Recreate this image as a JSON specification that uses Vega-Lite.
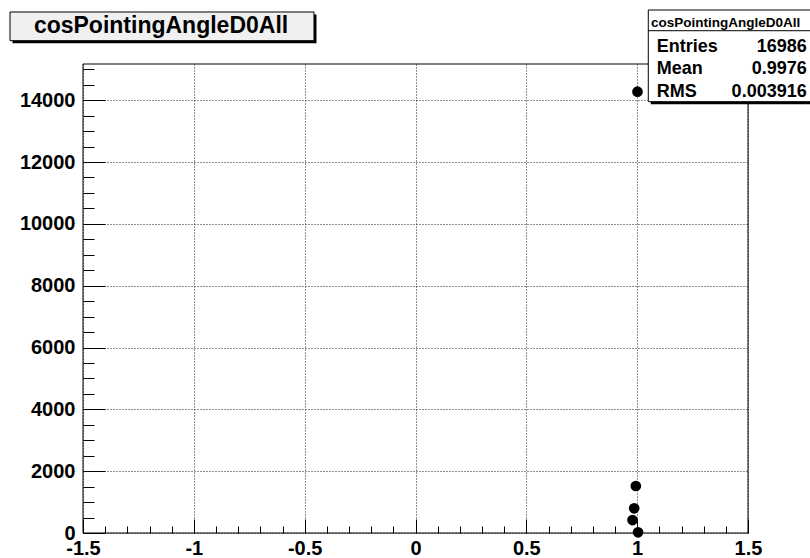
{
  "$schema": "https://vega.github.io/schema/vega-lite/v6.json",
  "width": 665,
  "height": 469,
  "autosize": "none",
  "padding": {"left": 83, "top": 64, "right": 62, "bottom": 25},
  "background": "white",
  "config": {
    "view": {"stroke": null},
    "font": "Liberation Sans",
    "axis": {
      "labelFont": "Liberation Sans",
      "labelFontWeight": "bold",
      "labelFontSize": 20,
      "labelColor": "black",
      "tickColor": "black",
      "tickWidth": 1,
      "domain": false,
      "title": null
    }
  },
  "datasets": {
    "hist": [
      {"x": 0.979, "count": 420},
      {"x": 0.9865, "count": 799},
      {"x": 0.994, "count": 1520},
      {"x": 1.0014, "count": 14274},
      {"x": 1.004, "count": 23}
    ],
    "one": [{}]
  },
  "layer": [
    {
      "data": {"name": "hist"},
      "mark": {"type": "point", "opacity": 0},
      "encoding": {
        "x": {"field": "x", "type": "quantitative",
          "scale": {"domain": [-1.5, 1.5], "nice": false, "zero": false},
          "axis": {"orient": "bottom", "values": [-1.4,-1.3,-1.2,-1.1,-0.9,-0.8,-0.7,-0.6,-0.4,-0.3,-0.2,-0.1,0.1,0.2,0.3,0.4,0.6,0.7,0.8,0.9,1.1,1.2,1.3,1.4], "labels": false, "grid": false, "tickSize": -7}},
        "y": {"field": "count", "type": "quantitative",
          "scale": {"domain": [0, 15170], "nice": false, "zero": false},
          "axis": {"orient": "left", "values": [500,1000,1500,2500,3000,3500,4500,5000,5500,6500,7000,7500,8500,9000,9500,10500,11000,11500,12500,13000,13500,14500,15000], "labels": false, "grid": false, "tickSize": -11}}
      }
    },
    {
      "data": {"name": "hist"},
      "mark": {"type": "point", "opacity": 0},
      "encoding": {
        "x": {"field": "x", "type": "quantitative",
          "scale": {"domain": [-1.5, 1.5], "nice": false, "zero": false},
          "axis": {"orient": "bottom", "values": [-1.5,-1,-0.5,0,0.5,1,1.5], "labelExpr": "'' + datum.value", "grid": true, "gridDash": [1,2], "gridColor": "#222", "gridWidth": 1, "tickSize": -14, "labelPadding": 19, "labelFlush": false, "labelOverlap": false}},
        "y": {"field": "count", "type": "quantitative",
          "scale": {"domain": [0, 15170], "nice": false, "zero": false},
          "axis": {"orient": "left", "values": [0,2000,4000,6000,8000,10000,12000,14000], "labelExpr": "'' + datum.value", "grid": true, "gridDash": [1,2], "gridColor": "#222", "gridWidth": 1, "tickSize": -22, "labelPadding": 30, "labelFlush": false, "labelOverlap": false}}
      }
    },
    {
      "data": {"name": "one"},
      "mark": {"type": "rect", "fill": null, "stroke": "black", "strokeWidth": 1},
      "encoding": {
        "x": {"datum": -1.5, "type": "quantitative", "scale": {"domain": [-1.5, 1.5], "nice": false, "zero": false}, "axis": null},
        "x2": {"datum": 1.5},
        "y": {"datum": 0, "type": "quantitative", "scale": {"domain": [0, 15170], "nice": false, "zero": false}, "axis": null},
        "y2": {"datum": 15170}
      }
    },
    {
      "data": {"name": "hist"},
      "mark": {"type": "point", "shape": "circle", "filled": true, "color": "black", "opacity": 1, "size": 115},
      "encoding": {
        "x": {"field": "x", "type": "quantitative", "scale": {"domain": [-1.5, 1.5], "nice": false, "zero": false}, "axis": null},
        "y": {"field": "count", "type": "quantitative", "scale": {"domain": [0, 15170], "nice": false, "zero": false}, "axis": null}
      }
    },
    {
      "data": {"name": "one"},
      "mark": {"type": "rect", "fill": "black", "stroke": null},
      "encoding": {
        "x": {"datum": -1.818, "type": "quantitative", "scale": {"domain": [-1.5, 1.5], "nice": false, "zero": false}, "axis": null},
        "x2": {"datum": -0.4466},
        "y": {"datum": 16771, "type": "quantitative", "scale": {"domain": [0, 15170], "nice": false, "zero": false}, "axis": null},
        "y2": {"datum": 15843}
      }
    },
    {
      "data": {"name": "one"},
      "mark": {"type": "rect", "fill": "#f0f0f0", "stroke": "black", "strokeWidth": 1},
      "encoding": {
        "x": {"datum": -1.8293, "type": "quantitative", "scale": {"domain": [-1.5, 1.5], "nice": false, "zero": false}, "axis": null},
        "x2": {"datum": -0.4579},
        "y": {"datum": 16852, "type": "quantitative", "scale": {"domain": [0, 15170], "nice": false, "zero": false}, "axis": null},
        "y2": {"datum": 15924}
      }
    },
    {
      "data": {"name": "one"},
      "mark": {"type": "text", "font": "Liberation Sans", "fontWeight": "bold", "fontSize": 23, "align": "center", "baseline": "alphabetic", "color": "black"},
      "encoding": {
        "x": {"datum": -1.148, "type": "quantitative", "scale": {"domain": [-1.5, 1.5], "nice": false, "zero": false}, "axis": null},
        "y": {"datum": 16173, "type": "quantitative", "scale": {"domain": [0, 15170], "nice": false, "zero": false}, "axis": null},
        "text": {"value": "cosPointingAngleD0All"}
      }
    },
    {
      "data": {"name": "one"},
      "mark": {"type": "rect", "fill": "black", "stroke": null},
      "encoding": {
        "x": {"datum": 1.0615, "type": "quantitative", "scale": {"domain": [-1.5, 1.5], "nice": false, "zero": false}, "axis": null},
        "x2": {"datum": 1.82},
        "y": {"datum": 16836, "type": "quantitative", "scale": {"domain": [0, 15170], "nice": false, "zero": false}, "axis": null},
        "y2": {"datum": 13870}
      }
    },
    {
      "data": {"name": "one"},
      "mark": {"type": "rect", "fill": "white", "stroke": "black", "strokeWidth": 1},
      "encoding": {
        "x": {"datum": 1.0502, "type": "quantitative", "scale": {"domain": [-1.5, 1.5], "nice": false, "zero": false}, "axis": null},
        "x2": {"datum": 1.82},
        "y": {"datum": 16917, "type": "quantitative", "scale": {"domain": [0, 15170], "nice": false, "zero": false}, "axis": null},
        "y2": {"datum": 13951}
      }
    },
    {
      "data": {"name": "one"},
      "mark": {"type": "rule", "color": "black", "strokeWidth": 1},
      "encoding": {
        "x": {"datum": 1.0502, "type": "quantitative", "scale": {"domain": [-1.5, 1.5], "nice": false, "zero": false}, "axis": null},
        "x2": {"datum": 1.82},
        "y": {"datum": 16247, "type": "quantitative", "scale": {"domain": [0, 15170], "nice": false, "zero": false}, "axis": null}
      }
    },
    {
      "data": {"name": "one"},
      "mark": {"type": "text", "font": "Liberation Sans", "fontWeight": "bold", "fontSize": 13.5, "align": "center", "baseline": "alphabetic", "color": "black"},
      "encoding": {
        "x": {"datum": 1.3993, "type": "quantitative", "scale": {"domain": [-1.5, 1.5], "nice": false, "zero": false}, "axis": null},
        "y": {"datum": 16377, "type": "quantitative", "scale": {"domain": [0, 15170], "nice": false, "zero": false}, "axis": null},
        "text": {"value": "cosPointingAngleD0All"}
      }
    },
    {
      "data": {"name": "one"},
      "mark": {"type": "text", "font": "Liberation Sans", "fontWeight": "bold", "fontSize": 18, "align": "left", "baseline": "alphabetic", "lineHeight": 22.5, "color": "black"},
      "encoding": {
        "x": {"datum": 1.0881, "type": "quantitative", "scale": {"domain": [-1.5, 1.5], "nice": false, "zero": false}, "axis": null},
        "y": {"datum": 15568, "type": "quantitative", "scale": {"domain": [0, 15170], "nice": false, "zero": false}, "axis": null},
        "text": {"value": ["Entries", "Mean", "RMS"]}
      }
    },
    {
      "data": {"name": "one"},
      "mark": {"type": "text", "font": "Liberation Sans", "fontWeight": "bold", "fontSize": 18, "align": "right", "baseline": "alphabetic", "lineHeight": 22.5, "color": "black"},
      "encoding": {
        "x": {"datum": 1.7648, "type": "quantitative", "scale": {"domain": [-1.5, 1.5], "nice": false, "zero": false}, "axis": null},
        "y": {"datum": 15568, "type": "quantitative", "scale": {"domain": [0, 15170], "nice": false, "zero": false}, "axis": null},
        "text": {"value": ["16986", "0.9976", "0.003916"]}
      }
    }
  ],
  "resolve": {"axis": {"x": "independent", "y": "independent"}}
}
